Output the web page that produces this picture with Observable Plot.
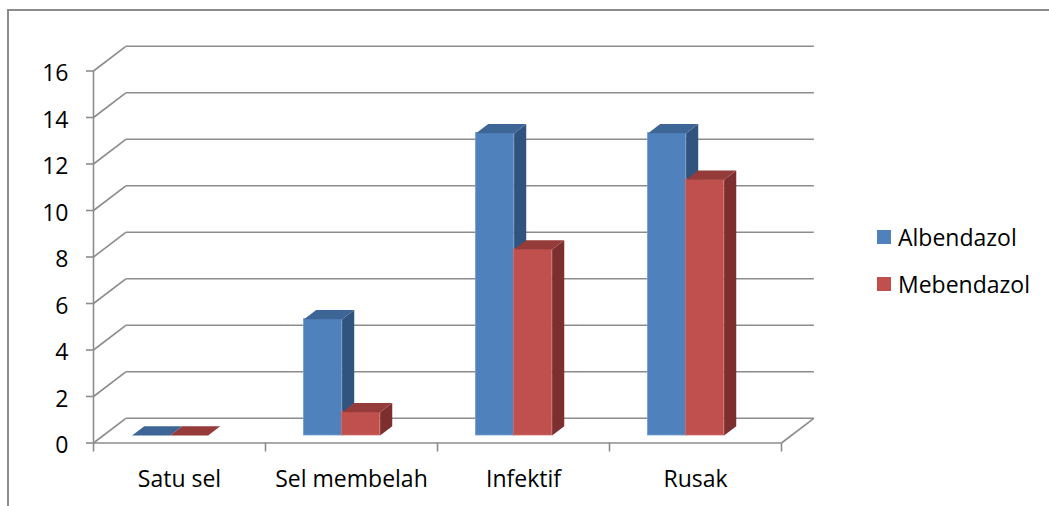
<!DOCTYPE html>
<html>
<head>
<meta charset="utf-8">
<script src="https://cdn.jsdelivr.net/npm/d3@7"></script>
<script src="https://cdn.jsdelivr.net/npm/@observablehq/plot@0.6"></script>
<style>
  html, body { margin: 0; padding: 0; background: #fff; overflow: hidden; }
  #chart { position: relative; width: 1049px; height: 506px; overflow: hidden; font-family: "Open Sans", Lato, sans-serif; }
  #chart svg { position: absolute; left: 0; top: 0; }
  #border { position: absolute; left: 7px; top: 9px; width: 1100px; height: 600px; border: 2px solid #8c8c8c; box-sizing: border-box; }
  .legend-row { position: absolute; left: 877px; display: flex; align-items: center; height: 24px; font-size: 23px; line-height: 24px; color: #000; white-space: nowrap; }
  .swatch { width: 14px; height: 14px; margin-right: 7px; }
</style>
</head>
<body>
<div id="chart"><div id="border"></div></div>
<script>
// Stage counts per category for the two treatments
const categories = ["Satu sel", "Sel membelah", "Infektif", "Rusak"];
const seriesNames = ["Albendazol", "Mebendazol"];
const albendazol = [0, 5, 13, 13];
const mebendazol = [0, 1, 8, 11];
const yTicks = [0, 2, 4, 6, 8, 10, 12, 14, 16];

// Styling
const fontFamily = "'Open Sans', Lato, sans-serif";
const fontSize = 23;
const frontColors = ["#4f81bd", "#c0504d"];
const sideColors = ["#31547f", "#7c2f2e"];
const topColors = ["#3d6596", "#953b39"];
const edgeColors = ["#6d98cc", "#d06a67"];
const gridColor = "#8c8c8c";
const gridWidth = 1.6;

// Oblique 3D geometry, expressed in data units (categories on x, counts on y)
const depthX = 0.188;     // floor depth along x
const depthY = 1.062;     // floor depth along y
const barFront = 0.305;   // front face of the columns, as a fraction of the floor depth
const barDepth = 0.375;   // column depth, as a fraction of the floor depth
const barWidth = 0.221;
const clusterLeft = 0.167;

const seriesValues = [albendazol, mebendazol];
const bars = [];
categories.forEach((category, i) => {
  seriesValues.forEach((values, s) => {
    const x1 = i + clusterLeft + s * barWidth + barFront * depthX;
    const base = barFront * depthY;
    bars.push({category, series: seriesNames[s], s, value: values[i],
      x1, x2: x1 + barWidth, y1: base, y2: base + values[i]});
  });
});
const bdx = barDepth * depthX, bdy = barDepth * depthY;
const poly = (d, pts) => pts.map(([x, y]) => ({id: d.category + "|" + d.series, s: d.s, x, y}));
const sideFaces = bars.flatMap(d => poly(d, [[d.x2, d.y1], [d.x2 + bdx, d.y1 + bdy], [d.x2 + bdx, d.y2 + bdy], [d.x2, d.y2]]));
const topFaces = bars.flatMap(d => poly(d, [[d.x1, d.y2], [d.x2, d.y2], [d.x2 + bdx, d.y2 + bdy], [d.x1 + bdx, d.y2 + bdy]]));

const barMarks = seriesNames.flatMap((name, s) => [
  Plot.rect(bars.filter(d => d.s === s), {x1: "x1", x2: "x2", y1: "y1", y2: "y2",
    fill: frontColors[s], stroke: edgeColors[s], strokeWidth: 0.8}),
  Plot.line(sideFaces.filter(d => d.s === s), {x: "x", y: "y", z: "id", fill: sideColors[s], stroke: "none", curve: "linear"}),
  Plot.line(topFaces.filter(d => d.s === s), {x: "x", y: "y", z: "id", fill: topColors[s], stroke: "none", curve: "linear"})
]);

const nCat = categories.length;
const chart = Plot.plot({
  width: 1049,
  height: 506,
  marginLeft: 93,
  marginRight: 268,
  marginTop: 70.5,
  marginBottom: 63.5,
  x: {type: "linear", domain: [0, nCat], axis: null},
  y: {type: "linear", domain: [0, 16], axis: null},
  style: {fontFamily, fontSize: fontSize + "px", color: "#000", background: "transparent", overflow: "visible"},
  marks: [
    // back wall gridlines
    Plot.link(yTicks, {x1: depthX, x2: nCat + depthX, y1: d => d + depthY, y2: d => d + depthY, stroke: gridColor, strokeWidth: gridWidth}),
    // left wall connectors
    Plot.link(yTicks, {x1: 0, x2: depthX, y1: d => d, y2: d => d + depthY, stroke: gridColor, strokeWidth: gridWidth}),
    // right edge of the floor
    Plot.link([0], {x1: nCat, x2: nCat + depthX, y1: 0, y2: depthY, stroke: gridColor, strokeWidth: gridWidth}),
    // front axis lines
    Plot.ruleX([0], {y1: 0, y2: 16, stroke: gridColor, strokeWidth: gridWidth}),
    Plot.ruleY([0], {x1: 0, x2: nCat, stroke: gridColor, strokeWidth: gridWidth}),
    Plot.axisY({ticks: yTicks, tickSize: 7, tickFormat: () => "", stroke: gridColor, strokeWidth: gridWidth, label: null}),
    Plot.axisX({ticks: d3.range(nCat + 1), tickSize: 9, tickFormat: () => "", stroke: gridColor, strokeWidth: gridWidth, label: null}),
    ...barMarks,
    // tick labels
    Plot.text(yTicks, {x: 0, y: d => d, text: d => String(d), textAnchor: "end", dx: -25, dy: 3.1, fill: "#000", fontSize}),
    Plot.text(categories, {x: (d, i) => i + 0.5, y: 0, text: d => d, dy: 36.8, fill: "#000", fontSize})
  ]
});
const root = document.getElementById("chart");
root.appendChild(chart);

// legend
const legendTops = [224.8, 272.1];
seriesNames.forEach((name, s) => {
  const row = document.createElement("div");
  row.className = "legend-row";
  row.style.top = legendTops[s] + "px";
  const sw = document.createElement("span");
  sw.className = "swatch";
  sw.style.background = frontColors[s];
  const label = document.createElement("span");
  label.textContent = name;
  row.appendChild(sw);
  row.appendChild(label);
  root.appendChild(row);
});
</script>
</body>
</html>
